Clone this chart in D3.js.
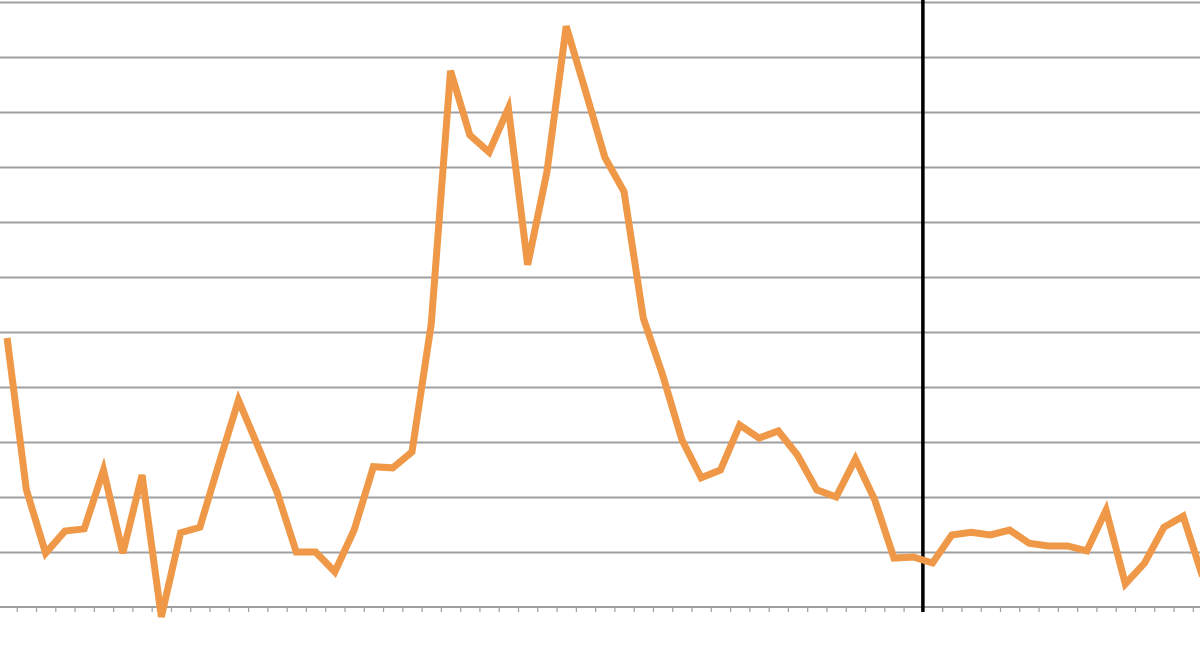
<!DOCTYPE html>
<html>
<head>
<meta charset="utf-8">
<script src="https://cdn.jsdelivr.net/npm/d3@7"></script>
<style>
  html, body { margin: 0; padding: 0; background: #fff; }
  svg { display: block; }
</style>
</head>
<body>
<svg id="chart" width="1200" height="653"></svg>
<script>
// Data (unit = one gridline step)
const categories = d3.range(1, 64); // 63 periods
const values = [
  4.89, 2.13, 0.98, 1.38, 1.42, 2.49, 0.98, 2.40, -0.18, 1.35,
  1.45, 2.62, 3.76, 2.93, 2.09, 1.00, 1.00, 0.64, 1.40, 2.55,
  2.53, 2.82, 5.15, 9.75, 8.58, 8.27, 9.07, 6.22, 7.91, 10.56,
  9.38, 8.18, 7.55, 5.25, 4.22, 3.04, 2.35, 2.49, 3.31, 3.07,
  3.20, 2.76, 2.13, 2.00, 2.69, 1.95, 0.89, 0.91, 0.80, 1.31,
  1.36, 1.31, 1.40, 1.16, 1.11, 1.11, 1.02, 1.76, 0.42, 0.80,
  1.45, 1.65, 0.56
];
const yTicks = [1, 2, 3, 4, 5, 6, 7, 8, 9, 10, 11];
const markerBoundary = [48]; // vertical black line position (between periods)

const svg = d3.select("#chart");
const W = 1200;

const x = d3.scaleBand()
  .domain(categories)
  .range([-2.55, -2.55 + categories.length * 19.28])
  .paddingInner(0).paddingOuter(0);
const xb = d3.scaleLinear()
  .domain([0, categories.length])
  .range(x.range());
const y = d3.scaleLinear().domain([0, 11]).range([607, 2]);

// gridlines
const grid = svg.append("g")
  .call(d3.axisLeft(y).tickValues(yTicks).tickSize(-W - 10).tickFormat(""))
  .attr("transform", "translate(-5,0)");
grid.select(".domain").remove();
grid.selectAll("line").attr("stroke", "#9f9f9f").attr("stroke-width", 2);

// x axis with ticks at category boundaries
const xa = svg.append("g")
  .attr("transform", `translate(0,${y(0)})`)
  .call(d3.axisBottom(xb).tickValues(d3.range(1, categories.length)).tickSize(5).tickSizeOuter(0).tickFormat(""));
xa.select(".domain").attr("stroke", "#9f9f9f").attr("stroke-width", 2)
  .attr("d", `M-5,0H${W + 10}`);
xa.selectAll(".tick line").attr("stroke", "#9f9f9f").attr("stroke-width", 1.2);

// vertical black marker
svg.selectAll(".marker").data(markerBoundary).enter().append("line")
  .attr("class", "marker")
  .attr("x1", d => xb(d)).attr("x2", d => xb(d))
  .attr("y1", 0).attr("y2", y(0) + 5)
  .attr("stroke", "#000").attr("stroke-width", 3.5);

// series line
const line = d3.line()
  .x((d, i) => x(categories[i]) + x.bandwidth() / 2)
  .y(d => y(d));
svg.append("path")
  .datum(values)
  .attr("fill", "none")
  .attr("stroke", "#ef9847")
  .attr("stroke-width", 7)
  .attr("stroke-linejoin", "miter")
  .attr("stroke-miterlimit", 4)
  .attr("d", line);
</script>
</body>
</html>
